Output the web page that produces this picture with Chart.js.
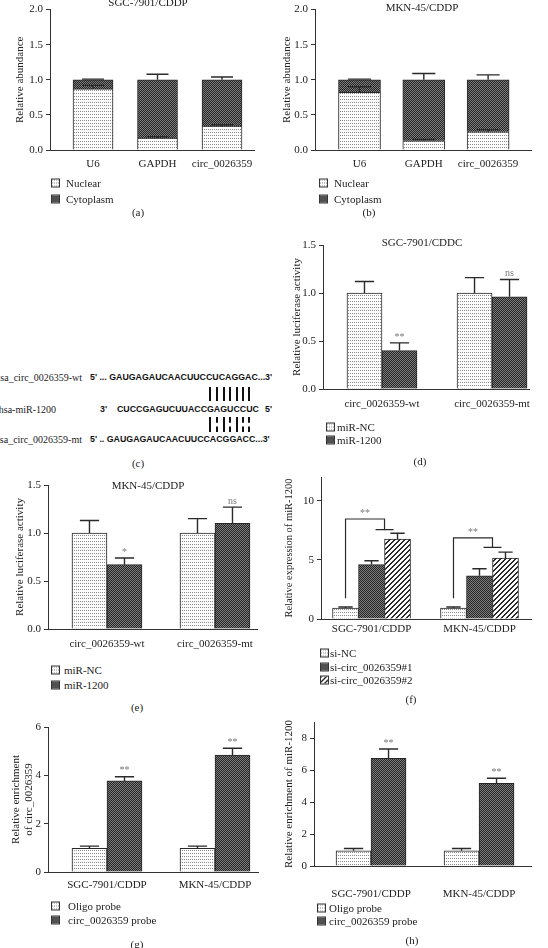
<!DOCTYPE html>
<html>
<head>
<meta charset="utf-8">
<script src="https://cdn.jsdelivr.net/npm/chart.js@4.4.0/dist/chart.umd.min.js"></script>
<style>
  body { margin: 0; width: 548px; height: 948px; overflow: hidden; position: relative; background: #fff; color: #222; font-family: "Liberation Serif", serif; }
  canvas { position: absolute; }
  .t { position: absolute; white-space: nowrap; font-size: 11px; line-height: 13px; }
  .c { transform: translate(-50%, -50%); }
  .l { transform: translateY(-50%); }
  .sw { position: absolute; width: 7px; height: 7px; border: 1px solid #333; transform: translateY(-50%); }
  .seq { position: absolute; white-space: nowrap; font-family: "Liberation Sans", Arial, sans-serif; font-weight: bold; font-size: 8.8px; transform: translateY(-50%); color: #111; }
  .lab { position: absolute; white-space: nowrap; font-size: 10px; transform: translate(-100%, -50%); }
  .pair { position: absolute; width: 0; border-left: 2px solid #111; }
  .pair.dash { border-left-style: dashed; }
</style>
</head>
<body>
<script>
// (a) SGC-7901/CDDP and (b) MKN-45/CDDP: nuclear / cytoplasm fractions
const fracLabels = ['U6', 'GAPDH', 'circ_0026359'];
const nuclearA = [0.87, 0.17, 0.34];
const cytoA = [0.13, 0.83, 0.66];
const nuclearErrA = [0.05, 0.02, 0.02];
const cytoErrA = [0.01, 0.08, 0.04];
const nuclearB = [0.82, 0.13, 0.26];
const cytoB = [0.18, 0.87, 0.74];
const nuclearErrB = [0.08, 0.02, 0.03];
const cytoErrB = [0.01, 0.09, 0.07];

// (d) and (e) luciferase activity
const lucLabels = ['circ_0026359-wt', 'circ_0026359-mt'];
const miNcD = [1.0, 1.0];
const miNcErrD = [0.12, 0.16];
const mir1200D = [0.40, 0.96];
const mir1200ErrD = [0.08, 0.18];
const sigD = ['**', 'ns'];
const miNcE = [1.0, 1.0];
const miNcErrE = [0.13, 0.15];
const mir1200E = [0.67, 1.10];
const mir1200ErrE = [0.07, 0.17];
const sigE = ['*', 'ns'];

// (f) miR-1200 expression after knockdown
const cellLabels = ['SGC-7901/CDDP', 'MKN-45/CDDP'];
const siNC = [0.92, 0.92];
const siNCErr = [0.1, 0.1];
const si1 = [4.6, 3.65];
const si1Err = [0.32, 0.6];
const si2 = [6.75, 5.15];
const si2Err = [0.5, 0.5];
const bracketBaseF = 1.75;
const bracketTopF = [8.45, 6.85];
const bracketDropF = [7.55, 6.05];
const bracketSigF = ['**', '**'];

// (g) and (h) pull-down enrichment
const oligoG = [0.98, 0.98];
const oligoErrG = [0.09, 0.09];
const probeG = [3.77, 4.84];
const probeErrG = [0.17, 0.28];
const sigG = ['**', '**'];
const oligoH = [0.95, 0.95];
const oligoErrH = [0.14, 0.14];
const probeH = [6.73, 5.17];
const probeErrH = [0.58, 0.31];
const sigH = ['**', '**'];

const FONT = 'Liberation Serif';

// fill patterns
function makeTile(kind) {
  const c = document.createElement('canvas');
  const g = c.getContext('2d');
  if (kind === 'light') {
    c.width = 4; c.height = 3;
    g.fillStyle = '#fcfcfc'; g.fillRect(0, 0, 4, 3);
    g.fillStyle = '#8a8a8a'; g.fillRect(0, 0, 1, 1); g.fillRect(2, 0, 1, 1);
  } else if (kind === 'dark') {
    c.width = 2; c.height = 2;
    g.fillStyle = '#262626'; g.fillRect(0, 0, 2, 2);
    g.fillStyle = '#7c7c7c'; g.fillRect(0, 0, 1, 1); g.fillRect(1, 1, 1, 1);
  } else {
    c.width = 5; c.height = 5;
    g.fillStyle = '#ffffff'; g.fillRect(0, 0, 5, 5);
    g.fillStyle = '#2a2a2a';
    for (let i = 0; i < 5; i++) { g.fillRect(i, 4 - i, 1, 1); g.fillRect(i, (5 - i) % 5, 1, 1); }
  }
  return c;
}
const tiles = { light: makeTile('light'), dark: makeTile('dark'), hatch: makeTile('hatch') };
const scratch = document.createElement('canvas').getContext('2d');
const fills = {};
for (const k in tiles) fills[k] = scratch.createPattern(tiles[k], 'repeat');

// error bars + significance marks
const errorBarPlugin = {
  id: 'errorBars',
  afterDatasetsDraw(chart) {
    const ctx = chart.ctx;
    const y = chart.scales.y;
    chart.data.datasets.forEach((ds, di) => {
      if (!ds.errors) return;
      chart.getDatasetMeta(di).data.forEach((bar, i) => {
        const topVal = y.getValueForPixel(bar.y);
        const ey = y.getPixelForValue(topVal + ds.errors[i]);
        const cap = bar.width * 0.55;
        ctx.save();
        ctx.strokeStyle = '#2a2a2a';
        ctx.lineWidth = 1.4;
        ctx.beginPath();
        ctx.moveTo(bar.x, bar.y); ctx.lineTo(bar.x, ey);
        ctx.moveTo(bar.x - cap / 2, ey); ctx.lineTo(bar.x + cap / 2, ey);
        ctx.stroke();
        if (ds.marks && ds.marks[i]) {
          ctx.fillStyle = '#7a7a7a';
          ctx.font = '10px "' + FONT + '"';
          ctx.textAlign = 'center';
          ctx.textBaseline = 'bottom';
          ctx.fillText(ds.marks[i], bar.x, ey - 1);
        }
        ctx.restore();
      });
    });
  }
};

// comparison brackets for panel (f)
function bracketPlugin(base, tops, drops, marks) {
  return {
    id: 'brackets',
    afterDatasetsDraw(chart) {
      const ctx = chart.ctx;
      const y = chart.scales.y;
      const m0 = chart.getDatasetMeta(0), m1 = chart.getDatasetMeta(1), m2 = chart.getDatasetMeta(2);
      tops.forEach((top, i) => {
        const lx = m0.data[i].x;
        const rx = (m1.data[i].x + m2.data[i].x) / 2;
        const yb = y.getPixelForValue(base), yt = y.getPixelForValue(top), yd = y.getPixelForValue(drops[i]);
        ctx.save();
        ctx.strokeStyle = '#2a2a2a';
        ctx.lineWidth = 1.2;
        ctx.beginPath();
        ctx.moveTo(lx, yb); ctx.lineTo(lx, yt); ctx.lineTo(rx, yt); ctx.lineTo(rx, yd);
        ctx.moveTo(rx - 9, yd); ctx.lineTo(rx + 9, yd);
        ctx.stroke();
        ctx.fillStyle = '#7a7a7a';
        ctx.font = '10px "' + FONT + '"';
        ctx.textAlign = 'center';
        ctx.textBaseline = 'bottom';
        ctx.fillText(marks[i], (lx + rx) / 2, yt - 1);
        ctx.restore();
      });
    }
  };
}

function makeCanvas(b) {
  const c = document.createElement('canvas');
  c.width = b.w; c.height = b.h;
  c.style.left = b.x + 'px'; c.style.top = b.y + 'px';
  c.style.width = b.w + 'px'; c.style.height = b.h + 'px';
  document.body.appendChild(c);
  return c;
}

function series(label, vals, errs, fill, marks) {
  return {
    label: label,
    data: vals.map((v, i) => ({ x: i, y: v })),
    backgroundColor: fill,
    borderColor: '#262626',
    borderWidth: 1,
    errors: errs,
    marks: marks
  };
}

function barPanel(p) {
  const b = p.box;
  const yw = p.plot.x0 - b.x;
  const xh = b.y + b.h - p.plot.y1;
  const lh = p.titleSize * 1.2;
  return new Chart(makeCanvas(b), {
    type: 'bar',
    data: { datasets: p.datasets },
    options: {
      responsive: false,
      animation: false,
      devicePixelRatio: 1,
      layout: { padding: { top: p.plot.y0 - b.y, right: b.x + b.w - p.plot.x1, left: 0, bottom: 0 } },
      datasets: { bar: { barThickness: p.bar } },
      plugins: { legend: { display: false }, tooltip: { enabled: false } },
      scales: {
        x: {
          type: 'linear',
          offset: false,
          stacked: !!p.stacked,
          min: p.xMin,
          max: p.xMax,
          grid: { display: false, drawTicks: false },
          border: { display: true, color: '#333', width: 1 },
          ticks: {
            stepSize: 1,
            includeBounds: false,
            autoSkip: false,
            maxRotation: 0,
            padding: p.xPad,
            color: '#222',
            font: { family: FONT, size: 11 },
            callback: v => Math.abs(v - Math.round(v)) < 1e-6 && p.labels[Math.round(v)] !== undefined ? p.labels[Math.round(v)] : ''
          },
          afterFit: s => { s.height = xh; }
        },
        y: {
          stacked: !!p.stacked,
          min: 0,
          max: p.yMax,
          grid: { display: true, drawOnChartArea: false, drawTicks: true, tickLength: 4, color: '#333' },
          border: { display: true, color: '#333', width: 1 },
          ticks: {
            stepSize: p.yStep,
            includeBounds: false,
            padding: 3,
            color: '#222',
            font: { family: FONT, size: 11 },
            callback: v => p.yDec ? v.toFixed(p.yDec) : String(v)
          },
          title: {
            display: true,
            text: p.yTitle,
            color: '#222',
            font: { family: FONT, size: p.titleSize },
            padding: { top: p.titleX - b.x - lh / 2, bottom: 0 }
          },
          afterFit: s => { s.width = yw; }
        }
      }
    },
    plugins: [errorBarPlugin].concat(p.plugins || [])
  });
}

// HTML text helpers
function text(str, x, y, cls) {
  const d = document.createElement('div');
  d.className = 't ' + (cls || 'c');
  d.textContent = str;
  d.style.left = x + 'px';
  d.style.top = y + 'px';
  document.body.appendChild(d);
  return d;
}
function legend(sx, tx, ys, items) {
  items.forEach((it, i) => {
    const s = document.createElement('div');
    s.className = 'sw';
    s.style.left = sx + 'px';
    s.style.top = ys[i] + 'px';
    s.style.backgroundImage = 'url(' + tiles[it[1]].toDataURL() + ')';
    document.body.appendChild(s);
    text(it[0], tx, ys[i], 'l');
  });
}

// (a)
barPanel({
  box: { x: 0, y: 0, w: 274, h: 178 }, plot: { x0: 50, y0: 8, x1: 254, y1: 150 },
  xMin: -0.667, xMax: 2.496, bar: 40, stacked: true, labels: fracLabels, xPad: 8,
  yMax: 2, yStep: 0.5, yDec: 1, yTitle: 'Relative abundance', titleSize: 11, titleX: 20,
  datasets: [
    series('Nuclear', nuclearA, nuclearErrA, fills.light),
    series('Cytoplasm', cytoA, cytoErrA, fills.dark)
  ]
});
text('SGC-7901/CDDP', 148, 2);
legend(51, 66, [183, 199], [['Nuclear', 'light'], ['Cytoplasm', 'dark']]);
text('(a)', 138, 212);

// (b)
barPanel({
  box: { x: 274, y: 0, w: 274, h: 178 }, plot: { x0: 315, y0: 7, x1: 531, y1: 150 },
  xMin: -0.692, xMax: 2.667, bar: 42, stacked: true, labels: fracLabels, xPad: 8,
  yMax: 2, yStep: 0.5, yDec: 1, yTitle: 'Relative abundance', titleSize: 11, titleX: 287,
  datasets: [
    series('Nuclear', nuclearB, nuclearErrB, fills.light),
    series('Cytoplasm', cytoB, cytoErrB, fills.dark)
  ]
});
text('MKN-45/CDDP', 422, 7);
legend(319, 334, [183, 199], [['Nuclear', 'light'], ['Cytoplasm', 'dark']]);
text('(b)', 369, 212);

// (c) binding sites
function lab(str, x, y) {
  const d = document.createElement('div');
  d.className = 'lab'; d.textContent = str;
  d.style.left = x + 'px'; d.style.top = y + 'px';
  document.body.appendChild(d);
}
function seq(html, x, y) {
  const d = document.createElement('div');
  d.className = 'seq'; d.innerHTML = html;
  d.style.left = x + 'px'; d.style.top = y + 'px';
  document.body.appendChild(d);
  return d;
}
lab('hsa_circ_0026359-wt', 82, 377);
lab('hsa-miR-1200', 56, 409);
lab('hsa_circ_0026359-mt', 82, 439);
seq("5' ... GAUGAGAUCAACUUCCUCAGGAC...3'", 90, 377);
seq("3'", 100, 409);
const mirSeq = 'CUCCGAGUCUUACCGAGUCCUC';
const pairStart = 14;
const mtPairs = ['s', 'd', 's', 'd', 's', 'd', 'd'];
seq(mirSeq.split('').map((ch, i) => '<span id="m' + i + '">' + ch + '</span>').join(''), 117, 409);
seq("5'", 265, 409);
seq("5' .. GAUGAGAUCAACUUCCACGGACC...3'", 90, 439);
function drawPairs() {
  mtPairs.forEach((kind, k) => {
    const r = document.getElementById('m' + (pairStart + k)).getBoundingClientRect();
    const cx = Math.round(r.left + r.width / 2 - 1);
    const up = document.createElement('div');
    up.className = 'pair';
    up.style.left = cx + 'px'; up.style.top = '387px'; up.style.height = '14px';
    document.body.appendChild(up);
    const dn = document.createElement('div');
    dn.className = 'pair' + (kind === 'd' ? ' dash' : '');
    dn.style.left = cx + 'px'; dn.style.top = '417px'; dn.style.height = '15px';
    document.body.appendChild(dn);
  });
}
drawPairs();
text('(c)', 138, 463);

// (d)
barPanel({
  box: { x: 274, y: 232, w: 274, h: 190 }, plot: { x0: 323, y0: 245, x1: 529, y1: 389 },
  xMin: -0.536, xMax: 1.336, bar: 35, labels: lucLabels, xPad: 9,
  yMax: 1.5, yStep: 0.5, yDec: 1, yTitle: 'Relative luciferase activity', titleSize: 11, titleX: 297,
  datasets: [
    series('miR-NC', miNcD, miNcErrD, fills.light),
    series('miR-1200', mir1200D, mir1200ErrD, fills.dark, sigD)
  ]
});
text('SGC-7901/CDDC', 422, 242);
legend(326, 337, [427, 440], [['miR-NC', 'light'], ['miR-1200', 'dark']]);
text('(d)', 420, 461);

// (e)
barPanel({
  box: { x: 0, y: 472, w: 274, h: 188 }, plot: { x0: 48, y0: 485, x1: 257, y1: 629 },
  xMin: -0.546, xMax: 1.389, bar: 35, labels: lucLabels, xPad: 9,
  yMax: 1.5, yStep: 0.5, yDec: 1, yTitle: 'Relative luciferase activity', titleSize: 11, titleX: 20,
  datasets: [
    series('miR-NC', miNcE, miNcErrE, fills.light),
    series('miR-1200', mir1200E, mir1200ErrE, fills.dark, sigE)
  ]
});
text('MKN-45/CDDP', 148, 485);
legend(51, 64, [670, 685], [['miR-NC', 'light'], ['miR-1200', 'dark']]);
text('(e)', 137, 707);

// (f)
barPanel({
  box: { x: 274, y: 465, w: 274, h: 180 }, plot: { x0: 321, y0: 477, x1: 531, y1: 619 },
  xMin: -0.468, xMax: 1.477, bar: 26, labels: cellLabels, xPad: 4,
  yMax: 12, yStep: 5, yTitle: 'Relative expression of miR-1200', titleSize: 10.5, titleX: 289,
  datasets: [
    series('si-NC', siNC, siNCErr, fills.light),
    series('si-circ_0026359#1', si1, si1Err, fills.dark),
    series('si-circ_0026359#2', si2, si2Err, fills.hatch)
  ],
  plugins: [bracketPlugin(bracketBaseF, bracketTopF, bracketDropF, bracketSigF)]
});
legend(320, 330, [653, 667, 680], [['si-NC', 'light'], ['si-circ_0026359#1', 'dark'], ['si-circ_0026359#2', 'hatch']]);
text('(f)', 411, 699);

// (g)
barPanel({
  box: { x: 0, y: 712, w: 274, h: 188 }, plot: { x0: 48, y0: 727, x1: 258, y1: 872 },
  xMin: -0.546, xMax: 1.398, bar: 35, labels: cellLabels, xPad: 7,
  yMax: 6, yStep: 2, yTitle: ['Relative enrichment', 'of circ_0026359'], titleSize: 11, titleX: 16,
  datasets: [
    series('Oligo probe', oligoG, oligoErrG, fills.light),
    series('circ_0026359 probe', probeG, probeErrG, fills.dark, sigG)
  ]
});
legend(51, 68, [906, 920], [['Oligo probe', 'light'], ['circ_0026359 probe', 'dark']]);
text('(g)', 137, 944);

// (h)
barPanel({
  box: { x: 274, y: 708, w: 274, h: 200 }, plot: { x0: 314, y0: 722, x1: 531, y1: 866 },
  xMin: -0.528, xMax: 1.481, bar: 35, labels: cellLabels, xPad: 22,
  yMax: 9, yStep: 2, yTitle: 'Relative enrichment of miR-1200', titleSize: 11, titleX: 289,
  datasets: [
    series('Oligo probe', oligoH, oligoErrH, fills.light),
    series('circ_0026359 probe', probeH, probeErrH, fills.dark, sigH)
  ]
});
legend(317, 329, [908, 921], [['Oligo probe', 'light'], ['circ_0026359 probe', 'dark']]);
text('(h)', 412, 940);
</script>
</body>
</html>
